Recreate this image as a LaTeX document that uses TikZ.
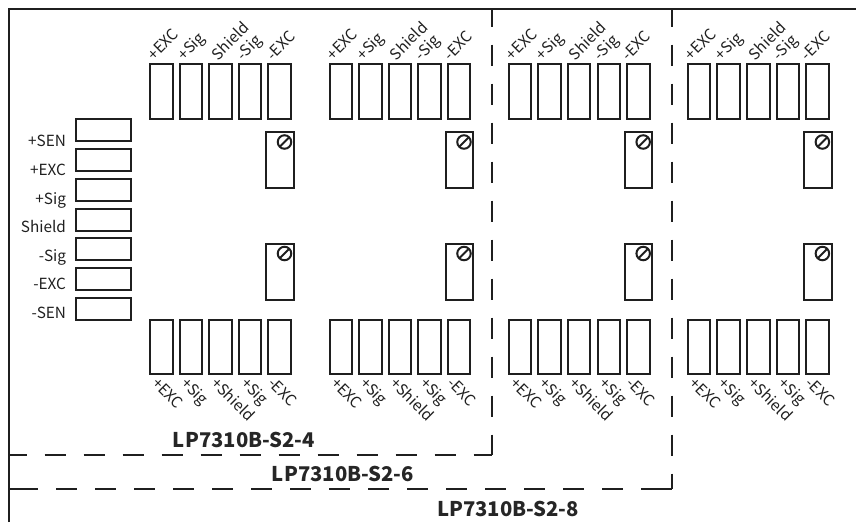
\documentclass[tikz,border=0pt]{standalone}
\usepackage{fontspec}
\setmainfont{Noto Sans CJK SC}
\begin{document}
\begin{tikzpicture}[x=0.75pt,y=-0.75pt,
  line width=1.5pt,
  ink/.style={draw=black!88},
  term/.style={ink,minimum width=22.5pt*0.75,minimum height=54.5pt*0.75,inner sep=0,outer sep=0},
  sens/.style={ink,minimum width=55.5pt*0.75,minimum height=22pt*0.75,inner sep=0,outer sep=0},
  pot/.style={ink,minimum width=27.5pt*0.75,minimum height=55.5pt*0.75,inner sep=0,outer sep=0},
  screw/.style={ink,circle,minimum size=13.5pt*0.75,inner sep=0,outer sep=0},
  txt/.style={font=\fontsize{11.5}{13}\selectfont,text=black!88,inner sep=0,outer sep=0},
  toplab/.style={txt,rotate=45,anchor=base west},
  botlab/.style={txt,rotate=-45,anchor=base west},
  senlab/.style={txt,anchor=base east},
  model/.style={font=\fontsize{15.2}{17}\selectfont\bfseries,text=black!85,inner sep=0,outer sep=0,anchor=base},
  dash1/.style={ink,dash pattern=on 16.1pt off 13.15pt,dash phase=2.6pt}]
\useasboundingbox (0,0) rectangle (856,522);
% frame
\coordinate (tl) at (9,9);
\coordinate (tr) at (856,9);
\coordinate (bl) at (9,522);
\draw[ink] (bl) -- (tl) -- (tr);
% dashed regions
\coordinate (a0) at (9,455);
\coordinate (a1) at (492,455);
\coordinate (a2) at (492,9);
\coordinate (b0) at (9,489);
\coordinate (b00) at (38,489);
\coordinate (b01) at (56,489);
\coordinate (b1) at (671.5,489);
\coordinate (b10) at (642,489);
\coordinate (b2) at (671.5,9);
\draw[dash1] (a0) -- (a1);
\draw[dash1] (a2) -- (a1);
\draw[ink] (b0) -- (b00);
\draw[ink,dash pattern=on 16.1pt off 13.15pt] (b01) -- (b10);
\draw[ink] (b10) -- (b1);
\draw[dash1] (b2) -- (b1);
% sensor column
\foreach \n/\y/\t/\b in {1/130/+SEN/146,2/159.5/+EXC/175,3/189.5/+Sig/204,4/219.5/Shield/232,5/248.8/-Sig/261,6/278.5/-EXC/289.5,7/308.5/-SEN/318.5}{
  \node[sens] (s\n) at (103.5,\y) {};
  \node[senlab] (sl\n) at (66,\b) {\t};
}
% terminal groups
\foreach \g/\o in {1/0,2/179.5,3/358.7,4/537.9}{
  \foreach \i/\x in {1/161.3,2/190.8,3/220.5,4/250.2,5/279.7}{
    \node[term] (t\g\i) at (\x+\o,91.3) {};
    \node[term] (b\g\i) at (\x+\o,347.2) {};
  }
  \node[pot] (p\g) at (280+\o,160) {};
  \node[pot] (q\g) at (280+\o,272) {};
  \node[screw] (sa\g) at (284.5+\o,142) {};
  \node[screw] (sb\g) at (284.5+\o,253.5) {};
  \draw[ink] (sa\g.south west) -- (sa\g.north east);
  \draw[ink] (sb\g.south west) -- (sb\g.north east);
}
% top labels
\foreach \g/\o/\d in {1/0/0,2/179.5/-2,3/358.7/-3,4/537.9/-3}{
  \node[toplab] (tl\g1) at (154+\o,61) {+EXC};
  \node[toplab] (tl\g2) at (184+\o,61) {+Sig};
  \node[toplab] (tl\g3) at (218+\o+\d*0.3,61) {Shield};
  \node[toplab] (tl\g4) at (243+\o+\d*0.5,61) {-Sig};
  \node[toplab] (tl\g5) at (273+\o+\d,61) {-EXC};
  \node[botlab] (bl\g1) at (151+\o,384) {+EXC};
  \node[botlab] (bl\g2) at (180+\o,384) {+Sig};
  \node[botlab] (bl\g3) at (210+\o,384) {+Shield};
  \node[botlab] (bl\g4) at (240+\o,384) {+Sig};
  \node[botlab] (bl\g5) at (267+\o,384) {-EXC};
}
\node[model] (m1) at (244,447) {LP7310B-S2-4};
\node[model] (m2) at (343,481.5) {LP7310B-S2-6};
\node[model] (m3) at (508,516) {LP7310B-S2-8};
\end{tikzpicture}
\end{document}
